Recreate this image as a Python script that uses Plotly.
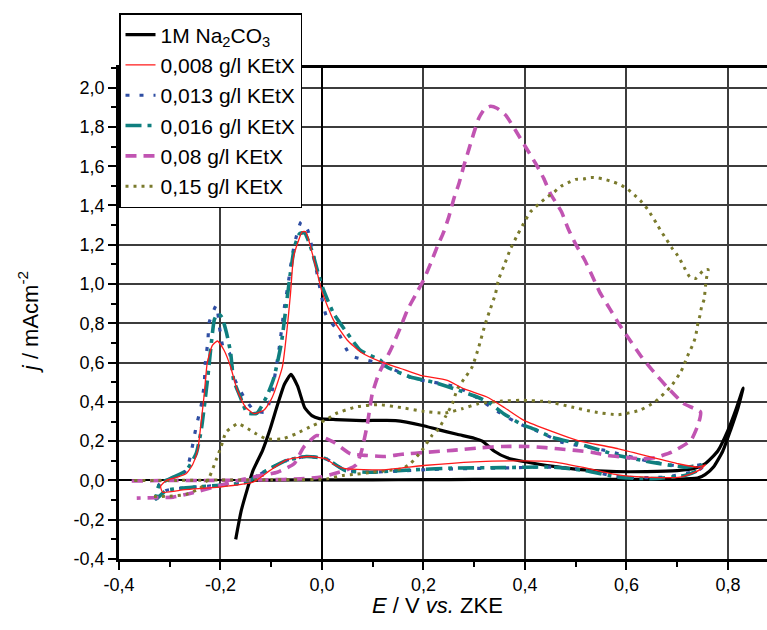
import plotly.graph_objects as go

# Cyclic voltammograms: current density j (mA/cm2) vs potential E (V vs. ZKE)

# 1M Na2CO3 (background electrolyte)
E_na2co3 = [-0.170, -0.159, -0.146, -0.136, -0.117, -0.103, -0.087, -0.074, -0.061,
            -0.048, -0.034, -0.020, -0.005, 0.027, 0.080, 0.145, 0.198, 0.227, 0.266,
            0.300, 0.316, 0.339, 0.365, 0.400, 0.460, 0.510, 0.580, 0.640, 0.700, 0.735,
            0.755, 0.780, 0.800, 0.817, 0.830,
            0.820, 0.805, 0.790, 0.772, 0.755, 0.740, 0.700, 0.600, 0.500, 0.400, 0.300,
            0.200, 0.100, 0.000, -0.100, -0.143]
j_na2co3 = [-0.300, -0.153, -0.034, 0.050, 0.153, 0.255, 0.390, 0.490, 0.540,
            0.480, 0.370, 0.330, 0.315, 0.310, 0.305, 0.305, 0.280, 0.260, 0.235,
            0.215, 0.200, 0.150, 0.115, 0.095, 0.070, 0.055, 0.045, 0.045, 0.050, 0.062,
            0.085, 0.150, 0.255, 0.370, 0.470,
            0.370, 0.255, 0.150, 0.070, 0.030, 0.012, 0.006, 0.006, 0.005, 0.006, 0.005,
            0.004, 0.003, 0.003, 0.002, 0.000]

# 0,008 g/l KEtX
E_008 = [-0.307, -0.285, -0.268, -0.255, -0.245, -0.238, -0.232, -0.226, -0.216, -0.206,
         -0.193, -0.180, -0.167, -0.151, -0.134, -0.115, -0.101, -0.095, -0.078, -0.069,
         -0.062, -0.056, -0.046, -0.039, -0.032, -0.019, -0.009, 0.000, 0.023, 0.050,
         0.076, 0.115, 0.155, 0.194, 0.247, 0.279, 0.325, 0.360, 0.398, 0.457, 0.503,
         0.518, 0.584, 0.649, 0.702, 0.741, 0.756,
         0.745, 0.733, 0.706, 0.649, 0.580, 0.512, 0.455, 0.398, 0.300, 0.200, 0.120,
         0.046, 0.027, 0.008, -0.025, -0.070, -0.103, -0.136, -0.202, -0.270, -0.314,
         -0.318, -0.307]
j_008 = [0.000, 0.017, 0.034, 0.080, 0.153, 0.300, 0.440, 0.600, 0.688, 0.710,
         0.663, 0.578, 0.459, 0.374, 0.340, 0.357, 0.408, 0.442, 0.578, 0.765,
         0.952, 1.138, 1.223, 1.266, 1.266, 1.155, 1.053, 0.960, 0.815, 0.714,
         0.654, 0.605, 0.570, 0.535, 0.510, 0.467, 0.425, 0.370, 0.306, 0.246, 0.204,
         0.195, 0.161, 0.119, 0.085, 0.068, 0.080,
         0.055, 0.040, 0.017, 0.016, 0.030, 0.068, 0.095, 0.100, 0.095, 0.076, 0.054,
         0.060, 0.076, 0.110, 0.122, 0.105, 0.050, -0.009, -0.034, -0.047, -0.060,
         -0.030, 0.000]

# 0,013 g/l KEtX
E_013 = [-0.320, -0.300, -0.268, -0.248, -0.238, -0.232, -0.230, -0.225, -0.222, -0.208,
         -0.202, -0.195, -0.182, -0.174, -0.154, -0.134, -0.111, -0.098, -0.084, -0.074,
         -0.067, -0.061, -0.054, -0.041, -0.028, -0.018, -0.002, 0.008, 0.030, 0.056,
         0.102, 0.138, 0.181, 0.220, 0.266, 0.306, 0.350, 0.388, 0.430, 0.472, 0.557,
         0.643, 0.721, 0.757,
         0.740, 0.675, 0.590, 0.511, 0.452, 0.381, 0.342, 0.217, 0.092, 0.046, 0.027,
         0.008, -0.031, -0.070, -0.110, -0.149, -0.202, -0.268, -0.307, -0.327, -0.320]
j_013 = [-0.017, 0.008, 0.050, 0.272, 0.382, 0.490, 0.595, 0.705, 0.807, 0.892,
         0.781, 0.680, 0.646, 0.527, 0.425, 0.357, 0.348, 0.459, 0.680, 0.883,
         0.994, 1.104, 1.206, 1.317, 1.274, 1.164, 0.952, 0.841, 0.765, 0.637,
         0.603, 0.569, 0.518, 0.500, 0.476, 0.420, 0.345, 0.289, 0.246, 0.195, 0.153,
         0.098, 0.068, 0.085,
         0.050, 0.017, 0.017, 0.055, 0.068, 0.065, 0.063, 0.056, 0.042, 0.051, 0.080,
         0.110, 0.122, 0.102, 0.050, -0.009, -0.025, -0.037, -0.051, -0.094, -0.017]

# 0,016 g/l KEtX
E_016 = [-0.320, -0.300, -0.268, -0.248, -0.238, -0.232, -0.225, -0.218, -0.212, -0.205,
         -0.197, -0.188, -0.180, -0.174, -0.161, -0.147, -0.128, -0.108, -0.095, -0.080,
         -0.070, -0.062, -0.054, -0.044, -0.034, -0.020, -0.008, 0.003, 0.023, 0.050,
         0.076, 0.115, 0.128, 0.174, 0.220, 0.260, 0.306, 0.332, 0.358, 0.391, 0.424,
         0.452, 0.517, 0.584, 0.649, 0.715, 0.748,
         0.740, 0.715, 0.649, 0.584, 0.517, 0.452, 0.355, 0.263, 0.184, 0.092, 0.046,
         0.027, 0.008, -0.031, -0.070, -0.110, -0.149, -0.202, -0.268, -0.307, -0.327,
         -0.320]
j_016 = [-0.017, 0.008, 0.050, 0.136, 0.255, 0.374, 0.527, 0.700, 0.820, 0.850,
         0.830, 0.750, 0.650, 0.510, 0.425, 0.343, 0.343, 0.433, 0.520, 0.700,
         0.900, 1.060, 1.190, 1.257, 1.260, 1.170, 1.060, 0.970, 0.850, 0.749,
         0.662, 0.612, 0.578, 0.527, 0.500, 0.467, 0.425, 0.391, 0.340, 0.289, 0.255,
         0.221, 0.178, 0.127, 0.093, 0.068, 0.076,
         0.050, 0.025, 0.009, 0.017, 0.051, 0.068, 0.065, 0.063, 0.055, 0.042, 0.051,
         0.080, 0.110, 0.122, 0.102, 0.050, -0.009, -0.025, -0.037, -0.051, -0.094,
         -0.017]

# 0,08 g/l KEtX
E_08 = [-0.375, -0.300, -0.226, -0.150, -0.108, -0.042, -0.003, 0.023, 0.050, 0.068,
        0.078, 0.089, 0.099, 0.112, 0.122, 0.138, 0.155, 0.168, 0.184, 0.200, 0.214,
        0.227, 0.240, 0.250, 0.260, 0.270, 0.279, 0.289, 0.299, 0.309, 0.320, 0.332,
        0.345, 0.362, 0.381, 0.401, 0.421, 0.437, 0.450, 0.472, 0.485, 0.501, 0.518,
        0.532, 0.547, 0.567, 0.587, 0.608, 0.630, 0.654, 0.680, 0.713, 0.746,
        0.742, 0.729, 0.720, 0.689, 0.656, 0.630, 0.603, 0.564, 0.531, 0.500, 0.465,
        0.440, 0.407, 0.355, 0.316, 0.257, 0.210, 0.158, 0.125, 0.089, 0.056, 0.023,
        -0.010, -0.036, -0.055, -0.088, -0.121, -0.165, -0.213, -0.260, -0.293, -0.330,
        -0.365]
j_08 = [-0.003, 0.000, 0.000, 0.002, 0.003, 0.008, 0.017, 0.034, 0.055, 0.080,
        0.150, 0.280, 0.440, 0.544, 0.595, 0.680, 0.781, 0.866, 0.943, 1.019, 1.104,
        1.189, 1.266, 1.342, 1.436, 1.512, 1.597, 1.682, 1.767, 1.844, 1.890, 1.905,
        1.895, 1.860, 1.784, 1.699, 1.614, 1.538, 1.461, 1.368, 1.283, 1.198, 1.121,
        1.045, 0.960, 0.875, 0.790, 0.710, 0.628, 0.552, 0.476, 0.391, 0.348,
        0.289, 0.212, 0.190, 0.144, 0.116, 0.110, 0.116, 0.127, 0.144, 0.153, 0.161,
        0.167, 0.173, 0.173, 0.167, 0.153, 0.144, 0.133, 0.122, 0.127, 0.136, 0.195,
        0.229, 0.170, 0.085, 0.042, 0.025, 0.000, -0.034, -0.066, -0.085, -0.088,
        -0.090]

# 0,15 g/l KEtX
E_015 = [-0.370, -0.300, -0.200, -0.100, -0.062, 0.010, 0.040, 0.066, 0.099, 0.132,
         0.158, 0.174, 0.197, 0.217, 0.230, 0.243, 0.257, 0.267, 0.283, 0.296, 0.309,
         0.322, 0.332, 0.342, 0.348, 0.360, 0.371, 0.385, 0.401, 0.411, 0.427, 0.440,
         0.456, 0.471, 0.485, 0.500, 0.515, 0.530, 0.544, 0.557, 0.574, 0.587, 0.603,
         0.616, 0.630, 0.643, 0.660, 0.669, 0.679, 0.689, 0.699, 0.708, 0.715, 0.725,
         0.736, 0.751, 0.761,
         0.758, 0.756, 0.753, 0.748, 0.745, 0.741, 0.736, 0.731, 0.724, 0.718, 0.712,
         0.705, 0.687, 0.656, 0.626, 0.584, 0.538, 0.492, 0.447, 0.394, 0.355, 0.309,
         0.276, 0.243, 0.197, 0.158, 0.112, 0.066, 0.027, 0.008, -0.018, -0.051, -0.077,
         -0.110, -0.130, -0.146, -0.166, -0.189, -0.199, -0.209, -0.222, -0.240, -0.268,
         -0.300, -0.338]
j_015 = [0.000, 0.000, 0.002, 0.003, 0.003, 0.008, 0.025, 0.031, 0.042, 0.051,
         0.060, 0.085, 0.153, 0.230, 0.263, 0.323, 0.391, 0.467, 0.527, 0.578, 0.680,
         0.799, 0.875, 0.951, 1.023, 1.101, 1.176, 1.249, 1.325, 1.368, 1.407, 1.436,
         1.465, 1.498, 1.516, 1.533, 1.535, 1.543, 1.540, 1.533, 1.520, 1.507, 1.482,
         1.453, 1.418, 1.376, 1.305, 1.266, 1.227, 1.186, 1.152, 1.113, 1.079, 1.036,
         1.028, 1.067, 1.074,
         1.033, 0.994, 0.921, 0.883, 0.841, 0.802, 0.730, 0.692, 0.654, 0.620, 0.578,
         0.544, 0.476, 0.400, 0.357, 0.335, 0.348, 0.374, 0.400, 0.408, 0.404, 0.391,
         0.365, 0.343, 0.353, 0.370, 0.386, 0.374, 0.340, 0.309, 0.280, 0.238, 0.212,
         0.212, 0.238, 0.263, 0.289, 0.246, 0.170, 0.102, 0.017, -0.040, -0.071,
         -0.080, -0.082]

# Axis ticks
x_ticks = [-0.4, -0.2, 0.0, 0.2, 0.4, 0.6, 0.8]
x_ticklabels = ["-0,4", "-0,2", "0,0", "0,2", "0,4", "0,6", "0,8"]
y_ticks = [-0.4, -0.2, 0.0, 0.2, 0.4, 0.6, 0.8, 1.0, 1.2, 1.4, 1.6, 1.8, 2.0]
y_ticklabels = ["-0,4", "-0,2", "0,0", "0,2", "0,4", "0,6", "0,8", "1,0", "1,2",
                "1,4", "1,6", "1,8", "2,0"]

FONT = "Liberation Sans, Arial, sans-serif"

series = [
    # name, E, j, colour, width, dash, legend rank
    ("1M Na<sub>2</sub>CO<sub>3</sub>", E_na2co3, j_na2co3, "#000000", 3.2, "solid", 1),
    ("0,013 g/l KEtX", E_013, j_013, "#2f4ea3", 3.2, "4px,10px", 3),
    ("0,016 g/l KEtX", E_016, j_016, "#0f7f7f", 3.6, "16px,6px,4px,6px", 4),
    ("0,08 g/l KEtX", E_08, j_08, "#c154b2", 3.6, "11px,7px", 5),
    ("0,15 g/l KEtX", E_015, j_015, "#7a7a2c", 3.0, "3px,5px", 6),
    ("0,008 g/l KEtX", E_008, j_008, "#ff1a1a", 1.3, "solid", 2),
]

fig = go.Figure()
for name, E, j, col, w, dash, rank in series:
    fig.add_trace(go.Scatter(
        x=E, y=j, mode="lines", name=name, legendrank=rank,
        line=dict(color=col, width=w, dash=dash, shape="spline", smoothing=0.5),
    ))

fig.update_layout(
    width=767, height=630,
    margin=dict(l=119, r=0, t=68, b=71),
    paper_bgcolor="white", plot_bgcolor="white",
    font=dict(family=FONT, size=18, color="black"),
    showlegend=True,
    legend=dict(
        x=0, y=1.112, xanchor="left", yanchor="top",
        bgcolor="white", bordercolor="black", borderwidth=1.5,
        font=dict(family=FONT, size=21, color="black"),
        tracegroupgap=0,
    ),
    xaxis=dict(
        range=[-0.4, 0.877], tickmode="array", tickvals=x_ticks, ticktext=x_ticklabels,
        ticks="outside", ticklen=8, tickwidth=2, tickcolor="black",
        showline=True, linecolor="black", linewidth=2.5, mirror=True,
        showgrid=True, gridcolor="#3c3c3c", gridwidth=1.5,
        zeroline=True, zerolinecolor="black", zerolinewidth=2.2,
        minor=dict(dtick=0.1, tick0=0, ticks="outside", ticklen=5, tickwidth=2,
                   tickcolor="black", showgrid=False),
        tickfont=dict(family=FONT, size=18, color="black"),
    ),
    yaxis=dict(
        range=[-0.4, 2.1], tickmode="array", tickvals=y_ticks, ticktext=y_ticklabels,
        ticks="outside", ticklen=8, tickwidth=2, tickcolor="black",
        showline=True, linecolor="black", linewidth=2.5, mirror=False,
        showgrid=True, gridcolor="#3c3c3c", gridwidth=1.5,
        zeroline=True, zerolinecolor="black", zerolinewidth=2.2,
        minor=dict(dtick=0.1, tick0=0, ticks="outside", ticklen=5, tickwidth=2,
                   tickcolor="black", showgrid=False),
        tickfont=dict(family=FONT, size=18, color="black"),
    ),
    annotations=[
        dict(text="<i>E</i> / V <i>vs.</i> ZKE", xref="paper", yref="paper",
             x=0.491, y=-0.094, xanchor="center", yanchor="middle", showarrow=False,
             font=dict(family=FONT, size=22, color="black")),
        dict(text="<i>j</i> / mAcm<sup>-2</sup>", xref="paper", yref="paper",
             x=-0.140, y=0.483, xanchor="center", yanchor="middle", showarrow=False,
             textangle=-90, font=dict(family=FONT, size=22, color="black")),
    ],
)

fig.write_html("out.html")
